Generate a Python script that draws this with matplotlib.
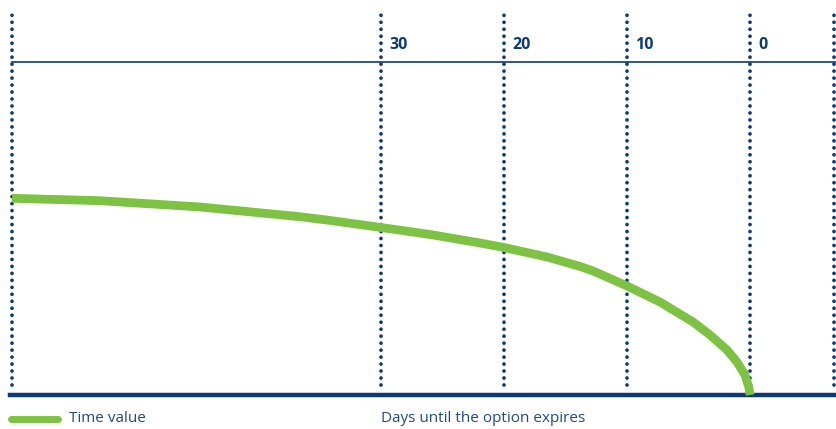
import matplotlib
matplotlib.use("Agg")
import matplotlib.pyplot as plt

# days until expiry vs time value (arbitrary units)
days = [60, 52.85, 44.7, 36.6, 34.1, 30, 26, 21.95, 20, 16.5, 13.8, 12.76,
        10, 7.32, 4.63, 3.25, 1.87, 1.06, 0.41, 0.1, 0]
time_value = [196.7, 194.3, 188, 178.3, 174.5, 167.5, 160.5, 152, 147.5, 138, 128.5, 124,
              109, 93, 73, 60, 45, 33, 20, 8, 0]

grid_days = [60, 30, 20, 10, 0, -6.85]
tick_labels = ["", "30", "20", "10", "0", ""]

NAVY = "#0b3a74"
GREEN = "#7dc242"

fig = plt.figure(figsize=(8.36, 4.29), dpi=100)
ax = fig.add_axes([0, 0, 1, 1])
ax.set_xlim(60.98, -6.99)
ax.set_ylim(-34, 395)
ax.axis("off")

# dotted verticals
for d, lab in zip(grid_days, tick_labels):
    ax.plot([d, d], [10, 383], color=NAVY, lw=2.7,
            linestyle=(0, (0.01, 1.85)), dash_capstyle="round", zorder=1)
    if lab:
        ax.text(d - 0.65, 350, lab, color=NAVY, fontsize=11.5, fontweight="bold",
                family="Open Sans", va="center", ha="left")

# top thin line and thick baseline
ax.plot([60, -6.99], [333, 333], color=NAVY, lw=1.2, zorder=2)
ax.plot([60.15, -6.99], [0, 0], color=NAVY, lw=3.2, zorder=2)

# time value curve
ax.plot(days, time_value, color=GREEN, lw=6.3, solid_capstyle="butt",
        solid_joinstyle="round", zorder=3)

# legend
ax.plot([60.1, 56.3], [-24, -24], color=GREEN, lw=5, solid_capstyle="round")
ax.text(55.4, -24, "Time value", color="#1f4a85", fontsize=11,
        family="Open Sans", va="center", ha="left")
ax.text(30, -24, "Days until the option expires", color="#1f4a85", fontsize=11,
        family="Open Sans", va="center", ha="left")

fig.savefig("out.png", dpi=100)
plt.close(fig)
